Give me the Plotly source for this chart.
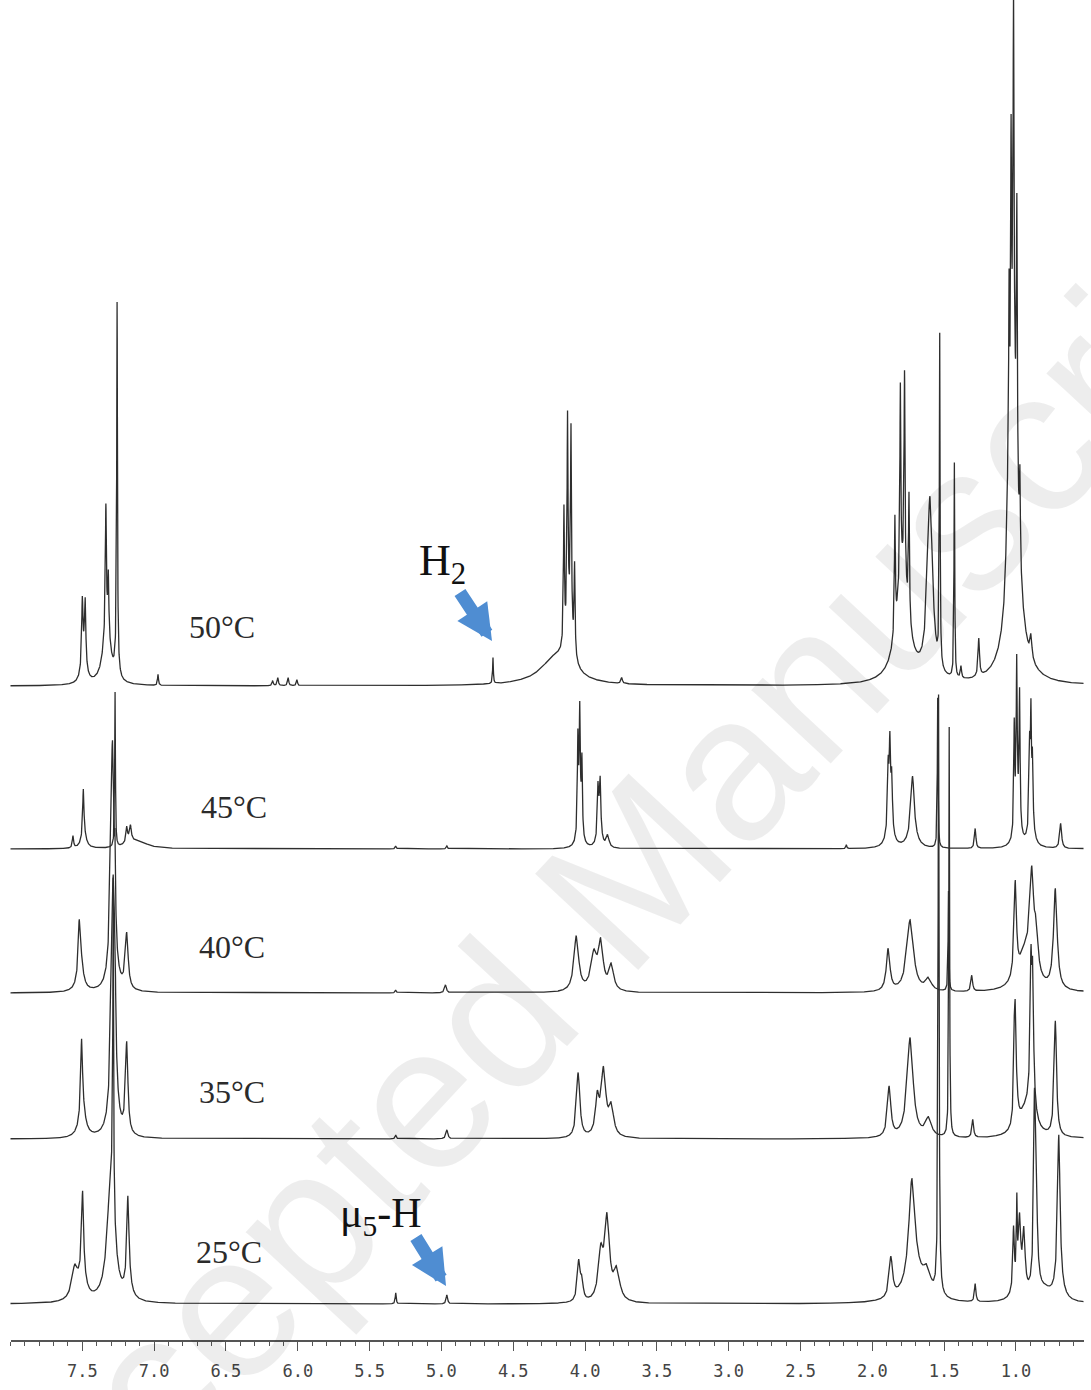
import numpy as np
import plotly.graph_objects as go

# ---------------- data (ppm, peak height, half-width) ----------------
temperatures = ["50°C", "45°C", "40°C", "35°C", "25°C"]

ppm_50 = [7.500, 7.480, 7.490, 7.336, 7.319, 7.330, 7.258, 7.260, 6.973, 6.175, 6.139, 6.067, 6.006,
          4.641, 4.200, 4.147, 4.122, 4.098, 4.073, 4.110, 3.745, 1.843, 1.805, 1.776, 1.745, 1.790,
          1.599, 1.531, 1.429, 1.383, 1.259, 1.062, 1.048, 1.034, 1.017, 0.994, 0.973, 1.015, 1.020, 0.896]
height_50 = [62, 60, 28, 120, 55, 60, 350, 25, 11, 5, 8, 8, 6,
             26, 28, 135, 205, 196, 88, 50, 6, 114, 194, 204, 124, 110,
             180, 330, 215, 12, 38, 50, 204, 284, 372, 274, 85, 150, 150, 22]
hwhm_50 = [.005, .005, .02, .004, .004, .03, .003, .012, .004, .005, .005, .005, .005,
           .003, .13, .004, .004, .004, .004, .025, .006, .004, .004, .004, .004, .05,
           .022, .003, .003, .005, .006, .008, .004, .004, .004, .004, .004, .05, .025, .008]

ppm_45 = [7.565, 7.493, 7.490, 7.272, 7.191, 7.165, 7.170, 7.100, 5.318, 4.962, 4.050, 4.037, 4.022, 4.037,
          3.910, 3.895, 3.900, 3.843, 2.181, 1.890, 1.878, 1.865, 1.878, 1.720, 1.720, 1.545, 1.284,
          1.012, 0.995, 0.975, 0.990, 0.905, 0.896, 0.885, 0.895, 0.689]
height_45 = [12, 45, 15, 155, 14, 12, 8, 6, 3, 3, 90, 100, 70, 35,
             45, 45, 25, 12, 4, 55, 68, 45, 35, 50, 22, 150, 20,
             105, 150, 130, 35, 70, 95, 60, 35, 25]
hwhm_45 = [.005, .005, .02, .003, .006, .006, .03, .08, .005, .005, .004, .004, .004, .015,
           .005, .005, .015, .012, .004, .005, .005, .005, .02, .012, .03, .003, .006,
           .004, .004, .004, .02, .004, .004, .004, .018, .008]

ppm_40 = [7.522, 7.515, 7.290, 7.272, 7.191, 5.318, 4.972, 4.061, 3.939, 3.891, 3.818, 1.890, 1.737,
          1.610, 1.470, 1.308, 1.005, 0.890, 0.860, 0.726, 0.930]
height_40 = [35, 42, 250, 60, 55, 3, 8, 55, 35, 45, 25, 42, 72,
             12, 100, 16, 95, 90, 40, 100, 40]
hwhm_40 = [.006, .02, .015, .003, .012, .005, .008, .02, .025, .02, .02, .015, .028,
           .025, .003, .007, .01, .015, .015, .015, .06]

ppm_35 = [7.505, 7.500, 7.285, 7.272, 7.191, 5.318, 4.962, 4.048, 3.915, 3.872, 3.818, 1.883, 1.737,
          1.610, 1.465, 1.301, 1.012, 1.005, 1.000, 0.896, 0.884, 0.890, 0.726, 0.930]
height_35 = [70, 30, 260, 60, 90, 4, 9, 65, 35, 65, 28, 50, 100,
             18, 410, 18, 60, 80, 30, 110, 105, 40, 115, 25]
hwhm_35 = [.007, .025, .016, .003, .01, .005, .008, .014, .015, .02, .02, .014, .025,
           .025, .003, .007, .005, .006, .015, .006, .007, .02, .01, .06]

ppm_25 = [7.553, 7.498, 7.500, 7.300, 7.285, 7.183, 7.180, 5.318, 4.962, 4.044, 4.022, 3.891, 3.847,
          3.780, 1.871, 1.725, 1.700, 1.620, 1.539, 1.284, 1.017, 0.994, 0.975, 0.945, 0.980, 0.872,
          0.862, 0.865, 0.702, 0.700, 0.800]
height_25 = [30, 80, 25, 130, 320, 75, 25, 11, 9, 40, 18, 45, 80,
             30, 40, 100, 25, 20, 600, 18, 60, 70, 50, 55, 30, 130,
             120, 30, 145, 20, 10]
hwhm_25 = [.025, .008, .03, .03, .003, .008, .02, .004, .006, .012, .01, .02, .02,
           .025, .014, .025, .08, .03, .004, .006, .006, .003, .008, .01, .03, .006,
           .008, .02, .01, .03, .06]

tick_values = [7.5, 7.0, 6.5, 6.0, 5.5, 5.0, 4.5, 4.0, 3.5, 3.0, 2.5, 2.0, 1.5, 1.0]
tick_labels = ["7.5", "7.0", "6.5", "6.0", "5.5", "5.0", "4.5", "4.0", "3.5", "3.0", "2.5", "2.0", "1.5", "1.0"]

# ---------------- layout constants ----------------
W, H = 1091, 1390
PLOT_H = 1340                      # plot area height in px (x-axis line at bottom)
stack_offsets = [654, 491, 347, 201, 36]   # vertical offset of each stacked trace
label_px = [(222, 627), (234, 807), (232, 947), (232, 1092), (229, 1252)]
X_MAX, X_MIN = 8.0, 0.53
PX_LEFT, PX_RIGHT = 10.5, 1083.5

ppm_grid = np.round(np.arange(0.45, 8.0505, 0.001), 3)


def spectrum(centers, heights, widths):
    c = np.asarray(centers, float)[:, None]
    h = np.asarray(heights, float)[:, None]
    w = np.asarray(widths, float)[:, None]
    return (h * w ** 2 / (w ** 2 + (ppm_grid[None, :] - c) ** 2)).sum(axis=0)


series = [
    (ppm_50, height_50, hwhm_50),
    (ppm_45, height_45, hwhm_45),
    (ppm_40, height_40, hwhm_40),
    (ppm_35, height_35, hwhm_35),
    (ppm_25, height_25, hwhm_25),
]

fig = go.Figure()
for name, (c, h, w), off in zip(temperatures, series, stack_offsets):
    fig.add_trace(go.Scatter(
        x=ppm_grid, y=off + spectrum(c, h, w), mode="lines", name=name,
        line=dict(color="#2e2e2e", width=1.3), hoverinfo="skip", showlegend=False))

ann = []
# watermark
ann.append(dict(text="Accepted Manuscript", x=605 / W, y=PLOT_H - 900, xref="paper", yref="y",
                xanchor="center", yanchor="middle", showarrow=False, textangle=-47,
                font=dict(family="Liberation Sans, Arial, sans-serif", size=205,
                          color="rgba(0,0,0,0.07)")))
# temperature labels
for name, (px, py) in zip(temperatures, label_px):
    ann.append(dict(text=name, x=px / W, y=PLOT_H - py, xref="paper", yref="y", showarrow=False,
                    xanchor="center", yanchor="middle",
                    font=dict(family="Liberation Serif, Times New Roman, serif", size=32, color="#2b2b2b")))
# species labels
ann.append(dict(text="H<sub>2</sub>", x=442 / W, y=PLOT_H - 563, xref="paper", yref="y", showarrow=False,
                xanchor="center", yanchor="middle",
                font=dict(family="Liberation Serif, Times New Roman, serif", size=44, color="#111")))
ann.append(dict(text="μ<sub>5</sub>-H", x=381 / W, y=PLOT_H - 1216, xref="paper", yref="y", showarrow=False,
                xanchor="center", yanchor="middle",
                font=dict(family="Liberation Serif, Times New Roman, serif", size=42, color="#111")))
# blue arrows
for (hx, hy), (ax, ay) in [((492, 641), (-33, -50)), ((446, 1286), (-31, -50))]:
    ann.append(dict(text="", x=hx / W, y=PLOT_H - hy, xref="paper", yref="y", showarrow=True,
                    ax=ax, ay=ay, arrowhead=2, arrowsize=0.55, arrowwidth=13,
                    arrowcolor="#4f8dd2"))
# ppm unit label
ann.append(dict(text="ppm", x=1066 / W, y=-27, xref="paper", yref="y", showarrow=False,
                xanchor="center", yanchor="middle",
                font=dict(family="DejaVu Sans Mono, monospace", size=14, color="#555")))

fig.update_layout(
    width=W, height=H, margin=dict(l=0, r=0, t=0, b=H - PLOT_H),
    paper_bgcolor="white", plot_bgcolor="white",
    annotations=ann,
    xaxis=dict(range=[X_MAX, X_MIN], domain=[PX_LEFT / W, PX_RIGHT / W],
               tickmode="array", tickvals=tick_values, ticktext=tick_labels,
               ticks="outside", ticklen=9, tickwidth=1.3, tickcolor="#555",
               showline=True, linecolor="#555", linewidth=1.5,
               showgrid=False, zeroline=False, ticklabelstandoff=6,
               tickfont=dict(family="DejaVu Sans Mono, monospace", size=17, color="#444"),
               minor=dict(tickmode="linear", tick0=0, dtick=0.1, ticks="outside",
                          ticklen=4, tickwidth=1, tickcolor="#555", showgrid=False)),
    yaxis=dict(range=[0, PLOT_H], visible=False, showgrid=False, zeroline=False),
)

fig.write_html("out.html")
